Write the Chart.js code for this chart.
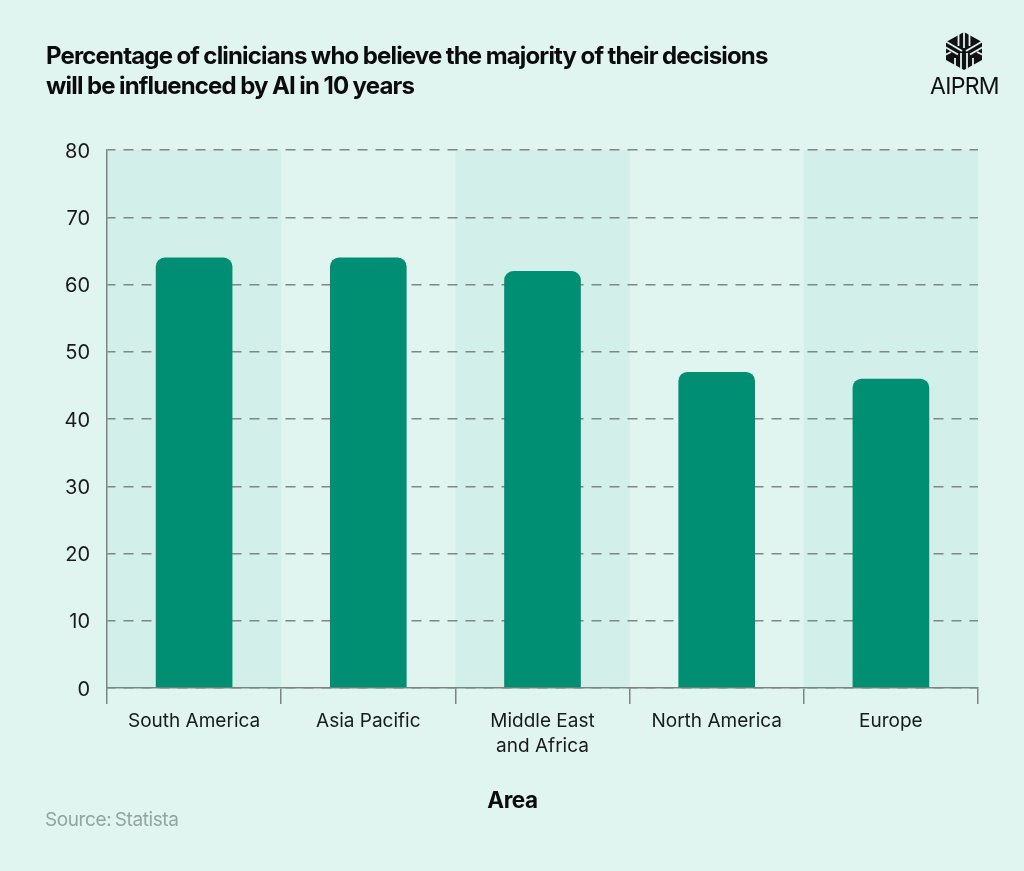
<!DOCTYPE html>
<html>
<head>
<meta charset="utf-8">
<title>Clinicians and AI</title>
<script src="https://cdn.jsdelivr.net/npm/chart.js@4/dist/chart.umd.min.js"></script>
<style>
  html, body { margin: 0; padding: 0; background: #e0f4f0; }
  body { position: relative; width: 1024px; height: 871px; overflow: hidden; font-family: Inter, sans-serif; }
  #grafico { position: absolute; left: 0; top: 0; }
  h1 { position: absolute; left: 46px; top: 41px; margin: 0; font-size: 24px; line-height: 30px; font-weight: 700; letter-spacing: -0.84px; word-spacing: -0.5px; color: #0b0b0b; }
  #fonte { position: absolute; left: 45px; top: 808px; font-size: 19px; letter-spacing: -0.4px; word-spacing: -1.5px; color: #93a5a2; }
  #marca { position: absolute; left: 930px; top: 72px; font-size: 23px; letter-spacing: -0.7px; color: #111; }
  #icone { position: absolute; left: 945px; top: 32px; }
  #eixo { position: absolute; left: 0; width: 1025px; top: 786px; text-align: center; font-size: 22.5px; font-weight: 700; letter-spacing: -0.4px; color: #0b0b0b; }
</style>
</head>
<body>
<canvas id="grafico" width="1024" height="871"></canvas>
<h1>Percentage of clinicians who believe the majority of their decisions<br>will be influenced by AI in 10 years</h1>
<svg id="icone" width="38" height="38" viewBox="0 0 38 38">
  <path d="M19 0 L37 10 L37 28 L19 38 L1 28 L1 10 Z" fill="#111"/>
  <g stroke="#e0f4f0" stroke-width="1.8" fill="none">
    <path d="M13.5 0 V14 M19 0 V16 M24.5 0 V14"/>
    <path d="M0 9 L17 19 M0 15 L13 22.5 M38 9 L21 19 M38 15 L25 22.5"/>
    <path d="M16 21 V38 M22 21 V38 M10 26 V34 M28 26 V34"/>
    <path d="M0 23 L6 20 M38 23 L32 20"/>
  </g>
</svg>
<div id="marca">AIPRM</div>
<div id="eixo">Area</div>
<div id="fonte">Source: Statista</div>
<script>
const areas = ['South America', 'Asia Pacific', ['Middle East', 'and Africa'], 'North America', 'Europe'];
const percentuais = [64, 64, 62, 47, 46];
const ticksY = [0, 10, 20, 30, 40, 50, 60, 70, 80];

const corTexto = '#1a1a1a';
const corEixo = '#7d8583';

// Faixas alternadas atras das barras
const faixas = {
    id: 'faixas',
    beforeDraw(chart) {
        const { ctx, chartArea, scales } = chart;
        const passo = scales.x.getPixelForValue(1) - scales.x.getPixelForValue(0);
        ctx.save();
        ctx.fillStyle = '#d3efe9';
        areas.forEach((a, i) => {
            if (i % 2 === 0) {
                ctx.fillRect(scales.x.getPixelForValue(i) - passo / 2, chartArea.top, passo, chartArea.height);
            }
        });
        ctx.restore();
    }
};

const ctx = document.getElementById('grafico').getContext('2d');
new Chart(ctx, {
    type: 'bar',
    data: {
        labels: areas,
        datasets: [{
            data: percentuais,
            backgroundColor: '#008f73',
            borderSkipped: 'bottom',
            borderRadius: { topLeft: 9, topRight: 9 },
            barPercentage: 0.44,
            categoryPercentage: 1
        }]
    },
    options: {
        responsive: false,
        animation: false,
        layout: { padding: { top: 150, right: 46, bottom: 59, left: 0 } },
        plugins: {
            legend: { display: false },
            title: { display: false },
            tooltip: { enabled: false }
        },
        scales: {
            x: {
                grid: { offset: true, drawOnChartArea: false, color: corEixo, lineWidth: 1.5, tickLength: 16 },
                border: { color: corEixo, width: 1.5 },
                ticks: { color: corTexto, padding: 5, maxRotation: 0, autoSkip: false, font: { family: 'Inter', size: 19, lineHeight: 1.32 } },
                afterFit(scale) { scale.height = 124; }
            },
            y: {
                min: 0,
                max: 80,
                afterBuildTicks(scale) { scale.ticks = ticksY.map(v => ({ value: v })); },
                grid: { color: '#7f8886', lineWidth: 1.5, drawTicks: false },
                border: { display: true, color: corEixo, width: 1.5, dash: [10, 8], dashOffset: 2 },
                ticks: { color: corTexto, padding: 17, labelOffset: 1.5, font: { family: 'Inter', size: 20 } },
                afterFit(scale) { scale.width = 107; }
            }
        }
    },
    plugins: [faixas]
});
</script>
</body>
</html>
